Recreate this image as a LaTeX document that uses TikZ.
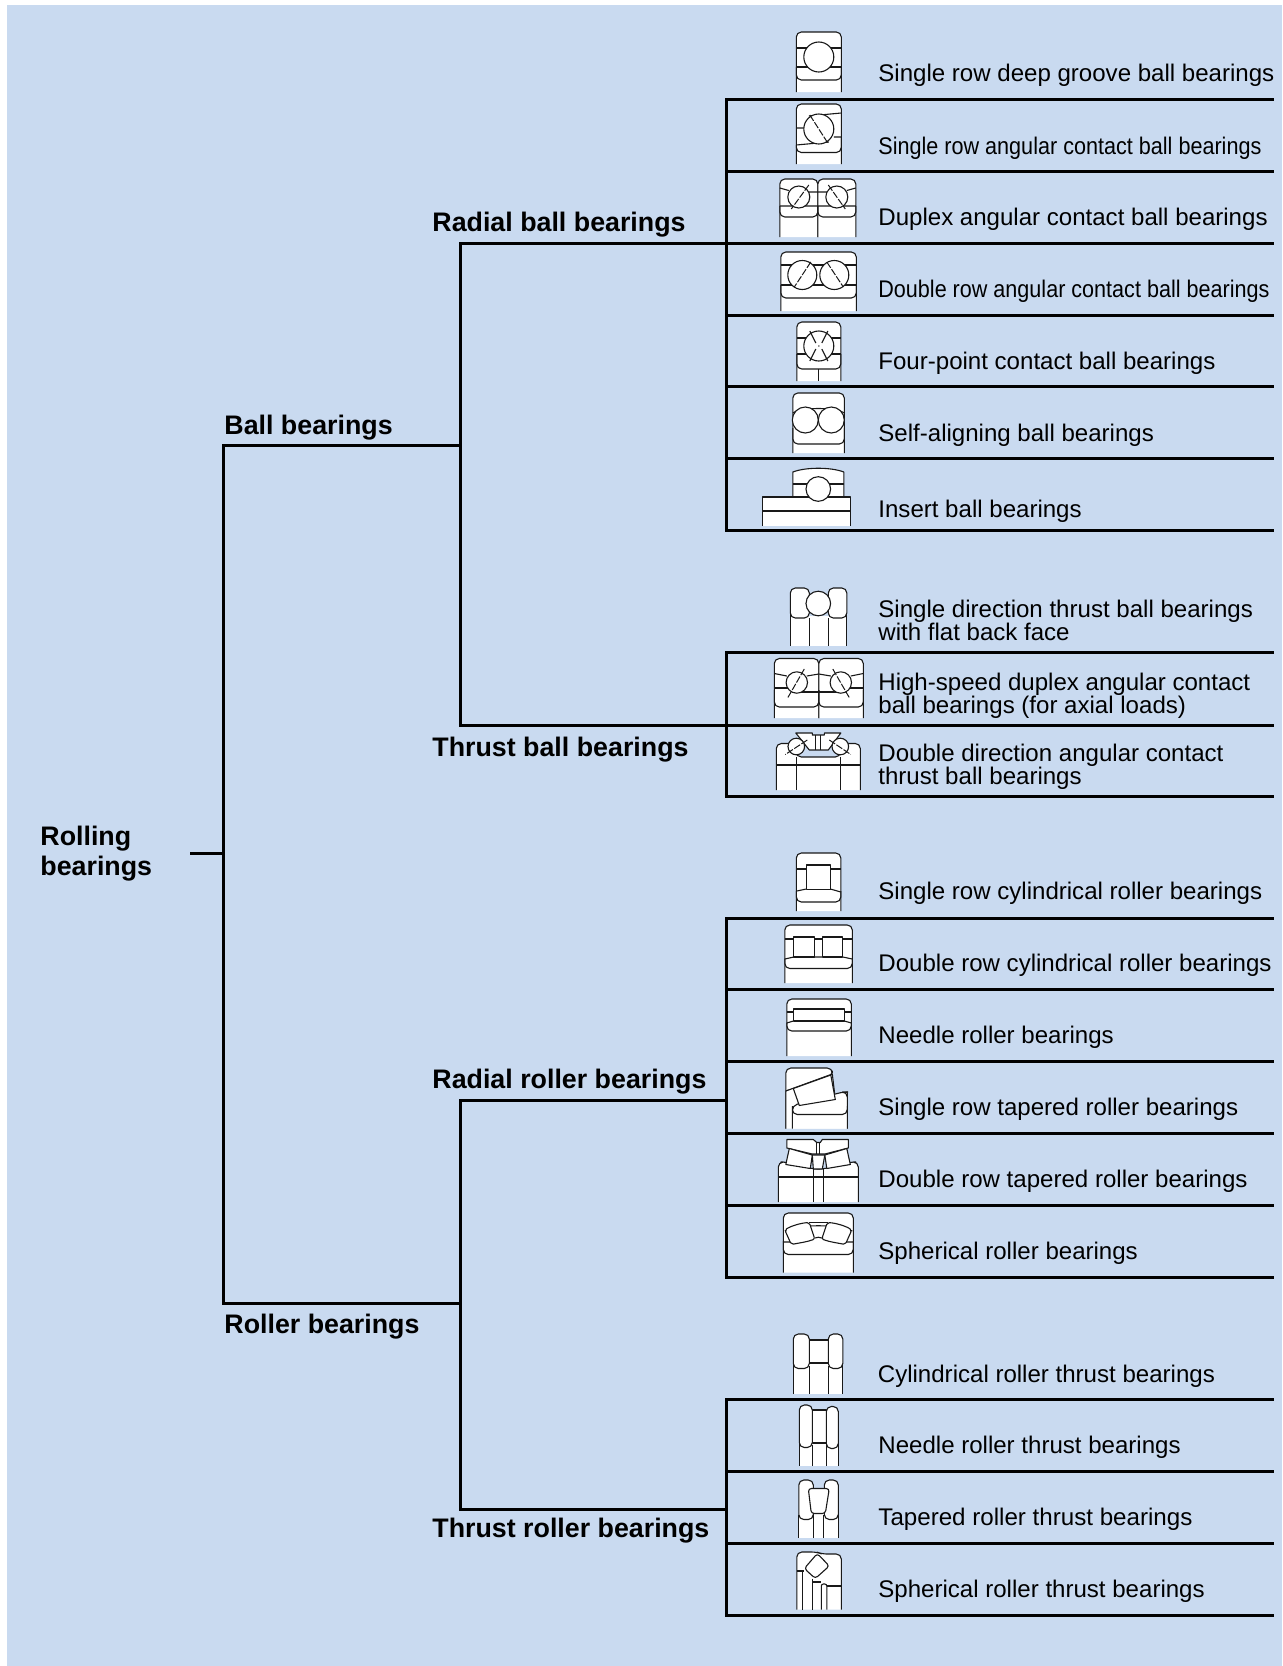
\documentclass[tikz,border=0pt]{standalone}
\usepackage{graphicx}
\usepackage{fontspec}
\setmainfont{Liberation Sans}
\definecolor{panel}{HTML}{C9DAF0}
\tikzset{
 x=0.5pt,y=-0.5pt,
 tree/.style={draw=black,line width=1.5pt,line cap=rect},
 ic/.style={draw=black!90,line width=0.55pt,fill=white,line join=round},
 il/.style={draw=black!90,line width=0.55pt,line join=round},
 cl/.style={draw=black!90,line width=0.5pt,dash pattern=on 3.5pt off 0.8pt},
 rc/.style={rounded corners=2.5pt},
 head/.style={anchor=base west,inner sep=0pt,font=\fontsize{13.4}{14.7}\selectfont\bfseries,align=left},
 kind/.style={anchor=base west,inner sep=0pt,font=\fontsize{12.03}{11.5}\selectfont,align=left},
}
\newcommand\bodyopen[4]{\draw[ic,rc] (#1,#4)--(#1,#3)--(#2,#3)--(#2,#4);}
\newcommand\innerring[4]{\draw[il,rc] (#1,#3)--(#1,#4)--(#2,#4)--(#2,#3);}
\newcommand\ball[3]{\draw[ic] (#1,#2) circle (#3);}
\begin{document}
\begin{tikzpicture}
\useasboundingbox (0,0) rectangle (1282,1666);
\fill[white] (0,0) rectangle (1282,1666);
\fill[panel] (7,5) rectangle (1282,1666);

% ---- labels
\node[head] (root) at (40,875) {Rolling\\bearings};
\node[head] (ball) at (224,434) {Ball bearings};
\node[head] (roller) at (224,1333) {Roller bearings};
\node[head] (rball) at (432,231) {Radial ball bearings};
\node[head] (tball) at (432,756) {Thrust ball bearings};
\node[head] (rroll) at (432,1088) {Radial roller bearings};
\node[head] (troll) at (432,1537) {Thrust roller bearings};

\node[kind] (k1) at (878,81) {Single row deep groove ball bearings};
\node[kind] (k2) at (878,154) {\resizebox{191.5pt}{\height}{Single row angular contact ball bearings}};
\node[kind] (k3) at (878,225) {Duplex angular contact ball bearings};
\node[kind] (k4) at (878,297) {\resizebox{195.5pt}{\height}{Double row angular contact ball bearings}};
\node[kind] (k5) at (878,369) {Four-point contact ball bearings};
\node[kind] (k6) at (878,441) {Self-aligning ball bearings};
\node[kind] (k7) at (878,517) {Insert ball bearings};
\node[kind] (k8) at (878,640) {Single direction thrust ball bearings\\with flat back face};
\node[kind] (k9) at (878,713) {High-speed duplex angular contact\\ball bearings (for axial loads)};
\node[kind] (k10) at (878,784) {Double direction angular contact\\thrust ball bearings};
\node[kind] (k11) at (878,899) {Single row cylindrical roller bearings};
\node[kind] (k12) at (878,971) {Double row cylindrical roller bearings};
\node[kind] (k13) at (878,1043) {Needle roller bearings};
\node[kind] (k14) at (878,1115) {Single row tapered roller bearings};
\node[kind] (k15) at (878,1187) {Double row tapered roller bearings};
\node[kind] (k16) at (878,1259) {Spherical roller bearings};
\node[kind] (k17) at (877.5,1382) {Cylindrical roller thrust bearings};
\node[kind] (k18) at (878,1453) {Needle roller thrust bearings};
\node[kind] (k19) at (878,1525) {\resizebox{157pt}{\height}{Tapered roller thrust bearings}};
\node[kind] (k20) at (878,1597) {Spherical roller thrust bearings};

% ---- tree junctions
\coordinate (stub) at (191,853);
\coordinate (j0) at (223,853);
\coordinate (j0a) at (223,445);
\coordinate (j0b) at (223,1303);
\coordinate (j1a) at (460,445);
\coordinate (j1b) at (460,1303);
\coordinate (j2) at (460,243);
\coordinate (j3) at (460,725);
\coordinate (j4) at (460,1100);
\coordinate (j5) at (460,1509);
\coordinate (b2) at (726,243);
\coordinate (b3) at (726,725);
\coordinate (b4) at (726,1100);
\coordinate (b5) at (726,1509);
\foreach \n/\y in {1/99,2/171,3/243,4/315,5/386.5,6/458,7/530,
                   8/652,9/725,10/796,
                   11/918,12/989,13/1061,14/1133,15/1205,16/1277,
                   17/1399,18/1471,19/1543,20/1615}{
  \coordinate (l\n) at (726,\y);
  \coordinate (e\n) at (1272,\y);
  \draw[tree] (l\n) -- (e\n);
}
\draw[tree] (stub) -- (j0);
\draw[tree] (j0a) -- (j0b);
\draw[tree] (j0a) -- (j1a);
\draw[tree] (j0b) -- (j1b);
\draw[tree] (j2) -- (j3);
\draw[tree] (j4) -- (j5);
\draw[tree] (j2) -- (b2);
\draw[tree] (j3) -- (b3);
\draw[tree] (j4) -- (b4);
\draw[tree] (j5) -- (b5);
\draw[tree] (l1) -- (l7);
\draw[tree] (l8) -- (l10);
\draw[tree] (l11) -- (l16);
\draw[tree] (l17) -- (l20);

\begin{scope}[shift={(0.8,0)}]
% ---- 1 deep groove
\bodyopen{795.5}{840.5}{32}{92}
\draw[il] (795.5,48)--(840.5,48) (795.5,67)--(840.5,67);
\innerring{795.5}{840.5}{67}{80}
\ball{818}{57}{15}
% ---- 2 angular contact
\bodyopen{795.5}{840.5}{104}{164}
\draw[il] (808,116)--(840.5,113) (795.5,128)--(803,128) (795.5,145)--(828,142) (833,137)--(840.5,137);
\draw[il,rc] (795.5,145)--(795.5,152.5)--(840.5,152.5)--(840.5,137);
\ball{818}{129}{15}
\draw[cl] (809,115)--(827,143);
% ---- 3 duplex
\bodyopen{779}{817}{179}{237}
\bodyopen{817}{855}{179}{237}
\draw[il] (779,188)--(788,190.5) (808,192)--(826,192) (846,190.5)--(855,188) (779,206)--(855,206);
\innerring{779}{817}{206}{217}
\innerring{817}{855}{206}{217}
\ball{798}{197}{11}
\ball{836}{197}{11}
\draw[cl] (808,185)--(790.5,209);
\draw[cl] (827.5,185)--(844.5,209);
% ---- 4 double row angular
\bodyopen{780}{855.5}{252}{311}
\draw[il] (780,265)--(855.5,265) (780,285)--(855.5,285);
\innerring{780}{855.5}{285}{298}
\ball{801.5}{275}{14.5}
\ball{833.5}{275}{14.5}
\draw[cl] (810,262)--(793.5,287);
\draw[cl] (826,262)--(842.5,287);
% ---- 5 four-point
\bodyopen{796}{840}{322}{381}
\draw[il] (796,338)--(840,338) (796,354)--(840,354);
\innerring{796}{840}{354}{369}
\draw[il] (818,369)--(818,381);
\ball{818}{346}{15}
\draw[il] (809,331)--(815,343) (821,349)--(827,361) (827,331)--(821,343) (815,349)--(809,361);
\fill[black] (818,346) circle (0.7);
% ---- 6 self-aligning
\bodyopen{792}{843.5}{393}{453}
\draw[il] (792,413) .. controls (800,407) and (835,407) .. (843.5,413);
\innerring{792}{843.5}{428}{444}
\ball{804.5}{420}{13}
\ball{830.5}{420}{13}
% ---- 7 insert
\draw[ic] (792,497)--(792,472) .. controls (805,467) and (830,467) .. (843,472)--(843,497);
\draw[il] (792,484)--(843,484);
\draw[ic] (762,526)--(762,497)--(850,497)--(850,526);
\draw[il] (762,511)--(850,511);
\ball{817.5}{489}{12.3}
% ---- 8 single direction thrust
\fill[white] (789.5,616) rectangle (846,646);
\draw[ic,rc] (789.5,618)--(789.5,588)--(808.5,588)--(808.5,618)--cycle;
\draw[ic,rc] (827.5,618)--(827.5,588)--(846,588)--(846,618)--cycle;
\draw[il] (789.5,614)--(789.5,646) (808.5,618)--(808.5,646) (827.5,618)--(827.5,646) (846,614)--(846,646);
\ball{817.5}{603.5}{12.3}
% ---- 9 high-speed duplex
\bodyopen{773.5}{818}{658.5}{718}
\bodyopen{818}{862.5}{658.5}{718}
\draw[il] (773.5,673.5)--(786,676) (806,676)--(818,674) (818,674)--(830,676) (850,676)--(862.5,673.5);
\draw[il] (773.5,688)--(787,688) (800,692)--(840,692) (849,688)--(862.5,688);
\innerring{773.5}{818}{690}{707}
\innerring{818}{862.5}{690}{707}
\ball{796}{682.5}{10.7}
\ball{840}{682.5}{10.7}
\draw[cl] (803.5,669)--(786.5,698.5);
\draw[cl] (832,669)--(849,698.5);
% ---- 10 double direction
\draw[ic,rc] (775.5,790)--(775.5,743.5)--(795,743.5)--(795.5,757)--(839.5,757)--(840,743.5)--(859.5,743.5)--(859.5,790);
\draw[il] (775.5,765)--(859.5,765) (795.5,757)--(795.5,790) (839.5,757)--(839.5,790);
\draw[ic] (795,733)--(811.5,733)--(811.5,735)--(823.5,735)--(823.5,733)--(840,733)--(827.5,750)--(808.5,750)--cycle;
\draw[il] (815,735)--(815,750) (819.5,735)--(819.5,750);
\ball{795.5}{746.5}{8.3}
\ball{839.5}{746.5}{8.3}
\draw[cl] (806.5,740)--(784.5,754.5);
\draw[cl] (828.5,740)--(850,754.5);
% ---- 11 cylindrical
\bodyopen{795.5}{840}{853}{911}
\draw[il] (795.5,869)--(840,869);
\draw[il] (796,891)--(805.5,889) (829.5,889)--(840,892);
\draw[il,rc] (795.5,891)--(795.5,902)--(840,902)--(840,891);
\draw[ic] (805.5,865) rectangle (829.5,889.5);
% ---- 12 double cylindrical
\bodyopen{784}{851.5}{925}{983}
\draw[il] (784,939)--(851.5,939);
\draw[il] (784,959)--(793,957) (813,957)--(821,957) (842,957)--(851.5,959);
\draw[il,rc] (784,959)--(784,968.5)--(851.5,968.5)--(851.5,959);
\draw[ic] (793,937) rectangle (813.5,957);
\draw[ic] (821.5,937) rectangle (842,957);
% ---- 13 needle
\bodyopen{786}{850.5}{999}{1056}
\draw[il] (786,1012)--(850.5,1012);
\draw[il] (786,1023)--(792.5,1021) (843.5,1021)--(850.5,1023);
\draw[il,rc] (786,1023)--(786,1031)--(850.5,1031)--(850.5,1023);
\draw[ic] (792.5,1009) rectangle (843.5,1021);
% ---- 14 single tapered
\draw[ic,rc] (785,1128.5)--(785,1068)--(831.5,1068)--(831.5,1076)--(785,1091);
\draw[ic] (785,1128.5)--(785,1091)--(831.5,1074)--(834,1095)--(846.5,1092)--(846.5,1128.5);
\draw[ic,rc] (791.5,1128.5)--(791.5,1105.5)--(842,1092)--(846.5,1092)--(846.5,1128.5);
\draw[il,rc] (791.5,1106)--(791.5,1114.5)--(846.5,1114.5)--(846.5,1106);
\draw[ic] (792.5,1088.5)--(830,1075)--(834.5,1099.5)--(798.5,1105.5)--cycle;
% ---- 15 double tapered
\draw[ic,rc] (777.5,1202)--(777.5,1162)--(785,1162)--(812.5,1169)--(822.5,1169)--(850,1162)--(857.5,1162)--(857.5,1202);
\draw[il] (777.5,1177)--(857.5,1177) (812.5,1169)--(812.5,1202) (822.5,1169)--(822.5,1202);
\draw[ic] (786,1148)--(786,1139.5)--(812.5,1139.5)--(816,1142.5)--(819.5,1142.5)--(821.5,1139.5)--(847.5,1139.5)--(847.5,1148)--(824,1154)--(811.5,1154)--cycle;
\draw[il] (816,1142.5)--(816,1154) (818.5,1142.5)--(818.5,1154);
\draw[ic] (811.5,1155)--(824,1155)--(821.5,1169)--(812.5,1169)--cycle;
\draw[ic] (788.5,1148.5)--(811.5,1155)--(809.5,1168.5)--(785,1164.5)--cycle;
\draw[ic] (846,1148.5)--(824,1155)--(826,1168.5)--(849.5,1164.5)--cycle;
% ---- 16 spherical
\bodyopen{782.5}{852.5}{1213}{1272.5}
\draw[il,rc] (782.5,1241)--(782.5,1254.5)--(852.5,1254.5)--(852.5,1241);
\draw[il] (784,1231) .. controls (795,1224) and (840,1224) .. (851.5,1231);
\draw[il] (783,1242)--(790,1242) (814,1238) .. controls (817,1237) and (818,1237) .. (821,1238) (845,1242)--(852.5,1242);
\draw[il] (808.5,1222.5)--(827,1222.5);
\draw[ic,rounded corners=1pt] (784,1230) .. controls (790,1226) and (800,1223) .. (808.5,1222.5)--(814,1239) .. controls (806,1242) and (798,1243) .. (790.5,1244.5)--cycle;
\draw[ic,rounded corners=1pt] (851,1230) .. controls (845,1226) and (835,1223) .. (826.5,1222.5)--(821,1239) .. controls (829,1242) and (837,1243) .. (844.5,1244.5)--cycle;
% ---- 17 cylindrical thrust
\fill[white] (792.5,1362) rectangle (842,1393.5);
\draw[ic] (808.5,1340) rectangle (827.5,1363);
\draw[ic,rc] (792.5,1368.5)--(792.5,1334)--(808.5,1334)--(808.5,1368.5)--cycle;
\draw[ic,rc] (827.5,1368.5)--(827.5,1334)--(842,1334)--(842,1368.5)--cycle;
\draw[il] (792.5,1364)--(792.5,1393.5) (808.5,1366)--(808.5,1393.5) (827.5,1366)--(827.5,1393.5) (842,1364)--(842,1393.5);
% ---- 18 needle thrust
\fill[white] (798.5,1440) rectangle (837.5,1466);
\draw[ic] (811.5,1410) rectangle (825.5,1443);
\draw[ic,rc] (798.5,1447.5)--(798.5,1405)--(811.5,1405)--(811.5,1447.5)--cycle;
\draw[ic,rc] (825.5,1448.5)--(825.5,1406.5)--(837.5,1406.5)--(837.5,1448.5)--cycle;
\draw[il] (798.5,1443)--(798.5,1466) (811.5,1445)--(811.5,1466) (825.5,1445)--(825.5,1466) (837.5,1443)--(837.5,1466);
% ---- 19 tapered thrust
\fill[white] (798,1512) rectangle (837.5,1537.5);
\draw[ic,rc] (798,1519.5)--(798,1480)--(812.5,1480)--(812.5,1519.5)--cycle;
\draw[ic,rc] (823.5,1519.5)--(823.5,1480)--(837.5,1480)--(837.5,1519.5)--cycle;
\draw[il] (798,1515)--(798,1537.5) (812.5,1515)--(812.5,1537.5) (822.5,1515)--(822.5,1537.5) (837.5,1515)--(837.5,1537.5);
\draw[ic,rounded corners=1.5pt] (807.5,1488.5)--(828.5,1488.5)--(824.5,1513.5)--(810.5,1513.5)--cycle;
% ---- 20 spherical thrust
\draw[ic,rc] (796,1609.5)--(796,1552)--(816,1552)--(821,1554)--(840.5,1554)--(840.5,1609.5);
\draw[il] (796,1571)--(803,1571) (802,1571)--(802,1609.5) (811.5,1578.5)--(811.5,1609.5) (811.5,1582)--(820.5,1582) (826,1586)--(840.5,1586);
\draw[il,rounded corners=1pt] (820.5,1609.5)--(820.5,1584)--(826,1584)--(826,1609.5);
\draw[ic,rounded corners=1.5pt] (816.5,1553.5)--(828.5,1566)--(814.5,1578.5)--(803.5,1568.5)--cycle;
\end{scope}
\end{tikzpicture}
\end{document}
